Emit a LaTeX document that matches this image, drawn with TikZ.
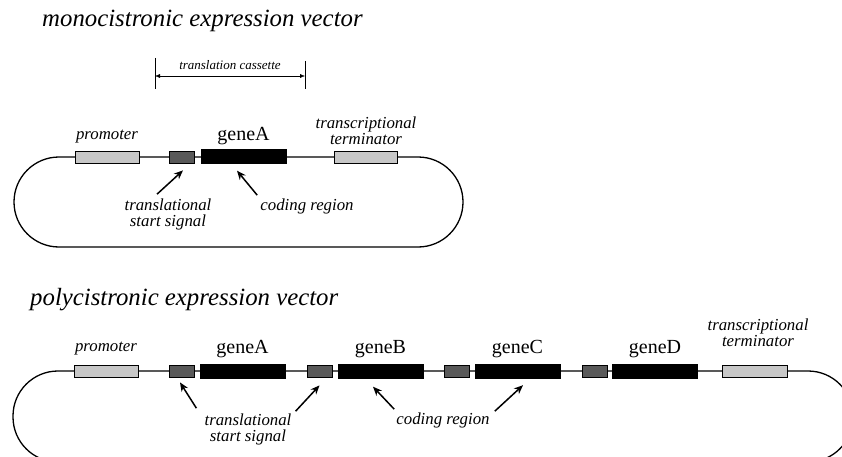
\documentclass[tikz,border=0pt]{standalone}
\usepackage{fontspec}
\setmainfont{Liberation Serif}
\usetikzlibrary{arrows.meta}

\begin{document}
\begin{tikzpicture}[x=1pt,y=-1pt,
    backbone/.style={line width=1.3pt},
    promoterbox/.style={draw, line width=0.8pt, fill=black!22, minimum height=12pt, inner sep=0pt},
    startbox/.style={draw, line width=0.8pt, fill=black!65, minimum width=25pt, minimum height=12pt, inner sep=0pt},
    genebox/.style={fill=black, minimum width=86pt, minimum height=15pt, inner sep=0pt},
    vectortitle/.style={font=\fontsize{24.8}{28}\selectfont\itshape, anchor=base west, inner sep=0pt},
    genename/.style={font=\fontsize{20}{22}\selectfont, inner sep=0pt},
    partlabel/.style={font=\fontsize{16.8}{16}\selectfont\itshape, align=center, inner sep=0pt},
    cassettelbl/.style={font=\fontsize{13}{14}\selectfont\itshape, inner sep=0pt},
    pointer/.style={-{Stealth[length=9pt,width=7.5pt]}, line width=1.5pt}]
    \clip (0,0) rectangle (842,457);

    % monocistronic
    \node[vectortitle] (monotitle) at (42,27) {monocistronic expression vector};
    \draw[backbone, rounded corners=45pt] (14,157) rectangle (463,247);
    \node[promoterbox, minimum width=64pt] (mprom) at (107,157) {};
    \node[startbox] (mstart) at (182,157) {};
    \node[genebox] (mgene) at (243.5,157) {};
    \node[promoterbox, minimum width=63pt] (mterm) at (365.5,157) {};

    \node[partlabel] (mpromlbl) at (107,137) {promoter};
    \node[genename] (mgenelbl) at (243.5,136) {geneA};
    \node[partlabel] (mtermlbl) at (366,131) {transcriptional\\terminator};
    \node[partlabel] (mtslbl) at (168,214) {translational\\start signal};
    \node[partlabel] (mcodlbl) at (307,206) {coding region};

    \draw[pointer] ([shift={(-11pt,4pt)}]mtslbl.north) -- ([shift={(1pt,-7pt)}]mstart.south);
    \draw[pointer] ([shift={(-3pt,3pt)}]mcodlbl.north west) -- ([shift={(-6.5pt,-6pt)}]mgene.south);

    % translation cassette
    \coordinate (cassL) at (155,76);
    \coordinate (cassR) at (305,76);
    \draw ([yshift=18pt]cassL) -- ([yshift=-13pt]cassL);
    \draw ([yshift=15pt]cassR) -- ([yshift=-13pt]cassR);
    \draw[{Latex[length=5pt,width=4pt]}-{Latex[length=5pt,width=4pt]}] (cassL) -- (cassR);
    \node[cassettelbl] (casslbl) at (230,65) {translation cassette};

    % polycistronic
    \node[vectortitle] (polytitle) at (30,305) {polycistronic expression vector};
    \draw[backbone, rounded corners=45pt] (13,371) rectangle (853,462);
    \node[promoterbox, minimum width=64pt] (pprom) at (106,371) {};
    \foreach \s/\g/\n in {181.5/242.5/A, 319.5/380.5/B, 456.5/517.5/C, 594.5/655/D} {
        \node[startbox] (pstart\n) at (\s,371) {};
        \node[genebox] (pgene\n) at (\g,371) {};
        \node[genename] (pgenelbl\n) at (\g,349) {gene\n};
    }
    \node[promoterbox, minimum width=65pt] (pterm) at (754.5,371) {};

    \node[partlabel] (ppromlbl) at (106,349) {promoter};
    \node[partlabel] (ptermlbl) at (758,333) {transcriptional\\terminator};
    \node[partlabel] (ptslbl) at (248,429) {translational\\start signal};
    \node[partlabel] (pcodlbl) at (443,420) {coding region};

    \draw[pointer] ([shift={(-8pt,5pt)}]ptslbl.north west) -- ([shift={(-1.5pt,-5pt)}]pstartA.south);
    \draw[pointer] ([shift={(4pt,2pt)}]ptslbl.north east) -- ([yshift=-8pt]pstartB.south);
    \draw[pointer] ([shift={(-2pt,3pt)}]pcodlbl.north west) -- ([shift={(-7.5pt,-8pt)}]pgeneB.south);
    \draw[pointer] ([shift={(5pt,1pt)}]pcodlbl.north east) -- ([shift={(5.5pt,-6.5pt)}]pgeneC.south);
\end{tikzpicture}
\end{document}
